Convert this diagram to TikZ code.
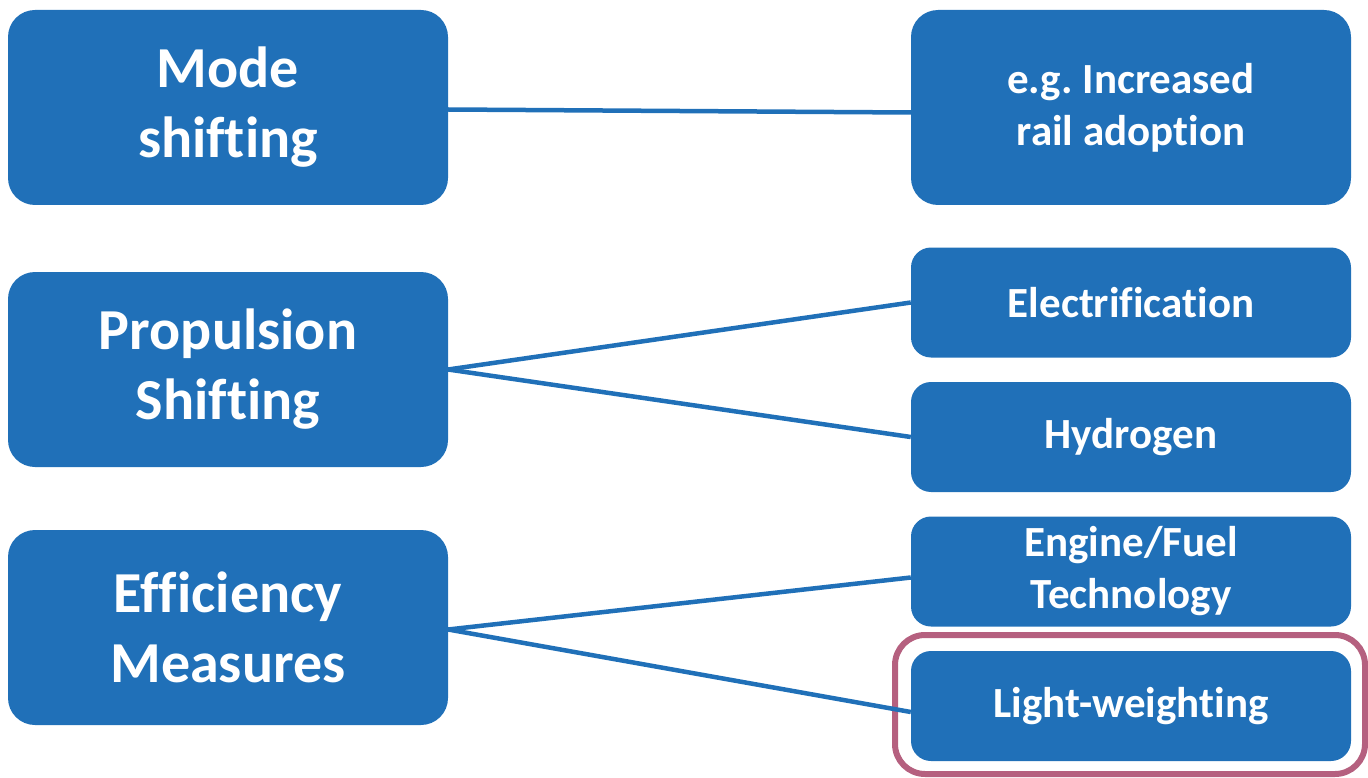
\documentclass[tikz,border=0pt]{standalone}
\usepackage{fontspec}
\setmainfont[Ligatures=NoCommon]{Carlito}
\definecolor{boxblue}{RGB}{32,112,184}
\definecolor{hlcol}{RGB}{181,96,127}
\begin{document}
\frenchspacing
\begin{tikzpicture}[x=1pt,y=-1pt,
  bigbox/.style={rectangle, rounded corners=27pt, fill=boxblue, text=white,
    font=\fontsize{58}{70}\selectfont\bfseries, align=center,
    minimum width=440pt, minimum height=195pt, inner sep=0pt},
  smallbox/.style={rectangle, rounded corners=20pt, fill=boxblue, text=white,
    font=\fontsize{43}{52}\selectfont\bfseries, align=center,
    minimum width=440pt, minimum height=110pt, inner sep=0pt},
  link/.style={draw=boxblue, line width=4.5pt},
  hlbox/.style={rectangle, draw=hlcol, line width=6pt, rounded corners=30pt,
    minimum width=470pt, minimum height=139pt, inner sep=0pt}]
\useasboundingbox (0,0) rectangle (1368,778);
\node[bigbox] (mode) at (228,107.5) {Mode\\shifting};
\node[bigbox] (prop) at (228,369.5) {Propulsion\\Shifting};
\node[bigbox] (eff) at (228,627.5) {Efficiency\\Measures};
\node[bigbox, font=\fontsize{43}{52}\selectfont\bfseries, rounded corners=27pt] (rail) at (1131,107.5) {e.g. Increased\\rail adoption};
\node[smallbox] (elec) at (1131,302.5) {Electrification};
\node[smallbox] (hyd) at (1131,437) {Hydrogen};
\node[smallbox] (eng) at (1131,571.5) {Engine/Fuel\\Technology};
\node[smallbox] (light) at (1131,706) {Light-weighting};
\node[hlbox] (hl) at (1130,704.5) {};
\draw[link] ([yshift=-2pt]mode.east) -- ([yshift=-5pt]rail.west);
\draw[link] (prop.east) -- (elec.west);
\draw[link] (prop.east) -- (hyd.west);
\draw[link] ([yshift=-2pt]eff.east) -- ([yshift=-6pt]eng.west);
\draw[link] ([yshift=-2pt]eff.east) -- ([yshift=-6pt]light.west);
\end{tikzpicture}
\end{document}
